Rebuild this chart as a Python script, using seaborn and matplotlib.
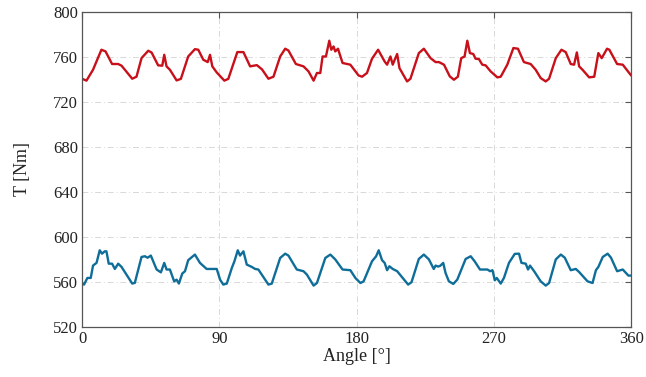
import numpy as np
import pandas as pd
import matplotlib
matplotlib.use('Agg')
import matplotlib.pyplot as plt
import seaborn as sns

# Torque traces (angle in degrees, torque in Nm)
red_angle = [0, 2.9, 7.2, 12.7, 15.4, 19.7, 23.7, 25.9, 32.9, 35.7, 39, 43.4, 45.6, 49.9,
             52.6, 53.9, 55.4, 57.6, 62, 64.8, 69.6, 74, 76.2, 79.5, 82.4, 83.9, 85.4,
             88.3, 93.3, 95.9, 101.8, 105.8, 110.2, 114.6, 118, 122.2, 125.5, 129.9,
             133.2, 135.3, 140.2, 145.2, 148.5, 151.8, 154, 156.2, 157.7, 159.9, 162.1,
             163.4, 164.9, 166, 167.8, 170.8, 175.9, 181.3, 183.6, 186.8, 190.1, 194.1,
             198.4, 200, 202.2, 203.7, 205, 206.6, 208.1, 213.1, 215.3, 220.8, 224.1,
             228.5, 231.8, 234, 237.3, 241.1, 243.8, 246.4, 248.6, 250.8, 252.6, 254.3,
             256.5, 258, 260.2, 262.4, 264.6, 267.9, 272.3, 274.5, 278.8, 282.8, 285.8,
             289.7, 294.1, 297.4, 300.7, 304, 306.2, 310.6, 314.3, 317.1, 320.4, 322.6,
             324.4, 325.9, 328.1, 332.5, 335.8, 338.5, 340.7, 344.2, 345.7, 350.8, 354.5,
             360]
red_torque = [740.7, 739, 748.7, 766.5, 765, 753.8, 753.8, 752.3, 740.7, 742.5, 759, 765.6,
              764, 752.6, 752.3, 762, 751.7, 748.7, 739.2, 740.6, 760.5, 767, 766.5, 757.6,
              755.5, 762, 751.7, 746.3, 739, 740.6, 764.4, 764.4, 751.7, 752.8, 749,
              740.7, 742.5, 760.5, 767.4, 765.8, 753.8, 751.7, 747.2, 739, 745.8, 745.8,
              760.5, 760.5, 774.5, 766.5, 769.4, 765, 767.4, 754.7, 753.2, 743.6, 742.5,
              745.8, 758.5, 766.5, 756, 753.2, 760.5, 753.2, 757.6, 762.7, 750.2, 738.3,
              740.7, 763.5, 767.4, 759, 755.5, 755.5, 753.2, 742.8, 739.8, 742.5, 759,
              760.5, 774.5, 763.5, 762.7, 758.5, 758.2, 753.2, 752.6, 747.2, 741.9, 742.5,
              753.2, 768, 767.4, 755.5, 753.8, 748.7, 741.3, 738.3, 740.7, 759, 766.5,
              764.4, 753.8, 753.2, 764.1, 751.7, 748.7, 741.9, 742.5, 763.5, 759, 767.4,
              766.5, 753.8, 753.2, 743.6]

blue_angle = [0, 1.3, 3.5, 5.7, 7.2, 9.5, 11.6, 13.1, 14.9, 16, 17.5, 19.7, 21.5, 23.7,
              25.9, 32.9, 34.6, 39, 41.2, 43, 45.1, 48.9, 51.7, 53.9, 55.4, 57.6, 60.4,
              62, 63.5, 65.7, 67.5, 69.6, 74, 77.3, 81.7, 88.3, 90.5, 92.6, 94.9, 98.2,
              99.9, 102.1, 103.6, 105.8, 108, 111.3, 113.5, 115.6, 122.2, 124.4, 129.9,
              133.2, 135.3, 140.8, 145.2, 147.4, 151.8, 154, 159.5, 162.8, 166, 170.8,
              175.9, 179.2, 182.5, 184.6, 190.1, 192.8, 194.5, 196.7, 198.4, 200, 201.5,
              203.7, 206.6, 213.8, 216, 220.8, 224.1, 227.4, 230.6, 231.8, 233.5, 235,
              236.8, 238.3, 240.5, 243.4, 246, 251.5, 254.8, 257.4, 260.9, 265.8, 267.5,
              269.1, 270.6, 271.9, 274.5, 276.6, 279.9, 283.7, 286.5, 288.1, 290.9, 292.4,
              293.7, 296.4, 300.7, 304, 306.2, 310.6, 313.9, 316.5, 320.4, 323.7, 325.9,
              331.4, 334.7, 336.9, 338.5, 341.4, 344.6, 346.8, 350.8, 354.5, 358.2, 360]
blue_torque = [559.1, 557.6, 563.5, 563.5, 574.5, 576.9, 588.1, 585.1, 587.2, 587.2, 576.2,
               576.2, 571.5, 576.2, 573.3, 558.5, 559.1, 582.2, 582.8, 581.5, 583.4, 571,
               568.5, 576.9, 571, 571, 560.5, 562, 558.5, 567.4, 569.5, 579.3, 584.3,
               576.9, 571.5, 571.5, 562, 557.6, 558.5, 572.4, 578.3, 588.1, 583.4, 587.2,
               575.4, 573.3, 571.5, 571, 557.6, 558.5, 581.3, 585.1, 583.4, 571, 569.5,
               566.5, 556.7, 559, 581.3, 584.3, 580, 571, 570.4, 563.5, 559, 560.5, 578.3,
               582.8, 588.1, 579.3, 576.9, 570.4, 573.9, 571.5, 569.5, 557.6, 559.7, 580.4,
               584.3, 580, 571.5, 574.5, 573.6, 574.5, 576.9, 568, 560.5, 558.2, 562,
               580.4, 582.8, 578.3, 571, 571, 569.5, 570.4, 561.4, 563.5, 558.5, 563.5,
               576.9, 584.9, 585.1, 576.9, 576.2, 571, 574.5, 569.5, 560.5, 556.7, 559,
               580, 584.3, 581.5, 570.4, 571.5, 568.8, 560.5, 559, 570.4, 573.3, 582.2,
               585.1, 581.5, 569.5, 571, 565.6, 565.6]

x_ticks = [0, 90, 180, 270, 360]
y_ticks = [520, 560, 600, 640, 680, 720, 760, 800]

red = pd.DataFrame({'angle': red_angle, 'T': red_torque})
blue = pd.DataFrame({'angle': blue_angle, 'T': blue_torque})

sns.set_style('white')
plt.rcParams['font.family'] = ['Liberation Serif', 'DejaVu Serif']

fig = plt.figure(figsize=(6.46, 3.77), dpi=100)
ax = fig.add_axes([0.127, 0.133, 0.85, 0.835])

sns.lineplot(data=red, x='angle', y='T', ax=ax, color='#C8101A', lw=1.7, sort=False,
             solid_joinstyle='round')
sns.lineplot(data=blue, x='angle', y='T', ax=ax, color='#0F6E99', lw=1.7, sort=False,
             solid_joinstyle='round')

ax.set_xlim(0, 360)
ax.set_ylim(520, 800)
ax.set_xticks(x_ticks)
ax.set_yticks(y_ticks)
ax.grid(True, color='#d8d8d8', ls=(0, (6, 3, 1, 3)), lw=0.7)
for s in ax.spines.values():
    s.set_color('#555555')
    s.set_linewidth(0.9)
ax.tick_params(direction='in', length=4, width=0.8, color='#555555',
               top=True, right=True, labelsize=12, pad=3, labelcolor='#222222')
ax.set_xlabel('Angle [°]', fontsize=13, labelpad=1, color='#222222')
ax.set_ylabel('T [Nm]', fontsize=13, labelpad=16, color='#222222')

fig.savefig('out.png', dpi=100)
